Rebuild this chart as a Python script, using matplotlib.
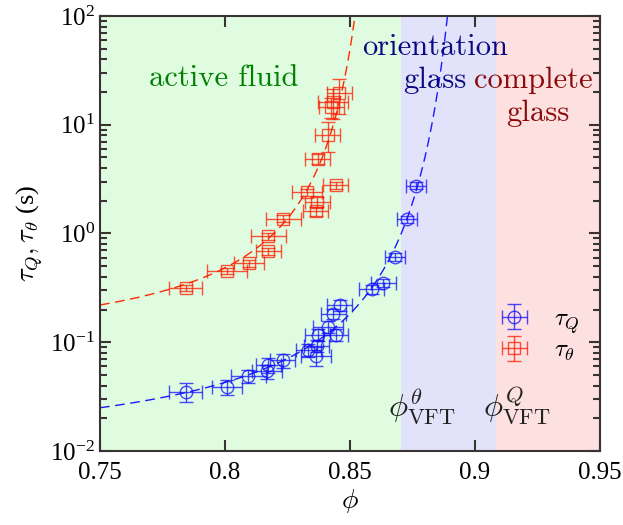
import numpy as np
import matplotlib
matplotlib.use("Agg")
import matplotlib.pyplot as plt

plt.rcParams['font.family'] = ['Liberation Serif', 'DejaVu Serif']
plt.rcParams['mathtext.fontset'] = 'cm'
plt.rcParams['axes.formatter.use_mathtext'] = True

# relaxation times vs packing fraction
phi_Q = [0.7843, 0.8007, 0.8093, 0.8169, 0.8173, 0.8231, 0.8333, 0.8364, 0.8367,
         0.8371, 0.8413, 0.8444, 0.8433, 0.8460, 0.8587, 0.8633, 0.8680, 0.8727, 0.8763]
tau_Q = [0.035, 0.039, 0.049, 0.054, 0.062, 0.068, 0.085, 0.075, 0.093,
         0.117, 0.139, 0.117, 0.182, 0.220, 0.309, 0.353, 0.612, 1.36, 2.76]
phi_Q_err = [0.0065, 0.006, 0.007, 0.006, 0.005, 0.005, 0.005, 0.006, 0.005,
             0.005, 0.006, 0.005, 0.005, 0.005, 0.005, 0.005, 0.004, 0.004, 0.004]
tau_Q_err = [0.007, 0.006, 0.007, 0.008, 0.010, 0.010, 0.012, 0.015, 0.012,
             0.015, 0.018, 0.015, 0.020, 0.025, 0.030, 0.030, 0.050, 0.10, 0.20]

phi_T = [0.7843, 0.8007, 0.8095, 0.8173, 0.8173, 0.8233, 0.8329, 0.8369, 0.8363,
         0.8444, 0.8371, 0.8411, 0.8425, 0.8433, 0.8457]
tau_T = [0.313, 0.452, 0.532, 0.690, 0.949, 1.37, 2.39, 1.96, 1.61,
         2.79, 4.88, 8.06, 14.5, 16.3, 19.5]
phi_T_err = [0.0065, 0.008, 0.006, 0.005, 0.007, 0.007, 0.006, 0.005, 0.005,
             0.005, 0.005, 0.005, 0.005, 0.006, 0.005]
tau_T_err = [0.02, 0.03, 0.04, 0.05, 0.07, 0.10, 0.2, 0.2, 0.15,
             0.2, 0.5, 2.5, 3.0, 5.0, 7.0]

# VFT fits: tau = A exp(B / (phi0 - phi))
VFT_T = (0.0725, 0.1338, 0.8705)
VFT_Q = (0.0078, 0.1844, 0.9085)

GREEN_BG = '#e0fce0'
BLUE_BG = '#e2e2fa'
RED_BG = '#fde0e0'


def vft(phi, a, b, phi0):
    return a * np.exp(b / (phi0 - phi))


fig = plt.figure(figsize=(6.23, 5.25), dpi=100)
ax = fig.add_axes([0.1605, 0.141, 0.8025, 0.8285])

ax.axvspan(0.75, VFT_T[2], color=GREEN_BG, lw=0, zorder=0)
ax.axvspan(VFT_T[2], VFT_Q[2], color=BLUE_BG, lw=0, zorder=0)
ax.axvspan(VFT_Q[2], 0.95, color=RED_BG, lw=0, zorder=0)

x = np.linspace(0.75, VFT_T[2] - 0.002, 400)
ax.plot(x, vft(x, *VFT_T), color='#ff2a00', lw=1, dashes=(7, 4), zorder=2)
x = np.linspace(0.75, VFT_Q[2] - 0.002, 400)
ax.plot(x, vft(x, *VFT_Q), color='#1a1aff', lw=1, dashes=(7, 4), zorder=2)

hq = ax.errorbar(phi_Q, tau_Q, xerr=phi_Q_err, yerr=tau_Q_err, fmt='o', ms=9,
                 mfc='none', mec='#1010ff', color='#1010ff', ecolor='#1010ff',
                 elinewidth=1, capsize=5, mew=1, alpha=0.75, zorder=3)
ht = ax.errorbar(phi_T, tau_T, xerr=phi_T_err, yerr=tau_T_err, fmt='s', ms=8,
                 mfc='none', mec='#ff1a00', color='#ff1a00', ecolor='#ff1a00',
                 elinewidth=1, capsize=5, mew=1, alpha=0.75, zorder=3)

ax.set_xlim(0.75, 0.95)
ax.set_ylim(1e-2, 1e2)
ax.set_yscale('log')
ax.set_xticks([0.75, 0.8, 0.85, 0.9, 0.95])
ax.set_xticklabels(['0.75', '0.8', '0.85', '0.9', '0.95'])
ax.tick_params(which='both', direction='in', top=True, right=True,
               color='#3a3333', labelsize=18)
ax.tick_params(which='major', length=8, width=1.5)
ax.tick_params(which='minor', length=5, width=1.5)
ax.tick_params(axis='x', pad=8)
for s in ax.spines.values():
    s.set_color('#3a3333')
    s.set_linewidth(1.5)

ax.set_xlabel(r'$\phi$', fontsize=20, labelpad=2)
ax.set_ylabel(r'$\tau_Q, \tau_\theta$ (s)', fontsize=19, labelpad=4)

region_font = dict(fontsize=22, family='cmr10', va='center')
ax.text(0.7695, 27, 'active fluid', color='#008000', ha='left', **region_font)
ax.text(0.884, 52, 'orientation', color='#0a0a80', ha='center', **region_font)
ax.text(0.884, 25.7, 'glass', color='#0a0a80', ha='center', **region_font)
ax.text(0.9235, 25.7, 'complete', color='#8b0a0a', ha='center', **region_font)
ax.text(0.925, 12.8, 'glass', color='#8b0a0a', ha='center', **region_font)

ax.text(0.8652, 0.026, r'$\phi^{\theta}_{\mathrm{VFT}}$', fontsize=23,
        ha='left', va='center', color='#222222')
ax.text(0.9032, 0.026, r'$\phi^{Q}_{\mathrm{VFT}}$', fontsize=23,
        ha='left', va='center', color='#222222')

leg = ax.legend([hq, ht], [r'$\tau_Q$', r'$\tau_\theta$'], loc='lower right',
                bbox_to_anchor=(1.005, 0.15), frameon=False, fontsize=18,
                handlelength=1.6, handletextpad=0.8, labelspacing=0.15)

fig.savefig('out.png', dpi=100)
